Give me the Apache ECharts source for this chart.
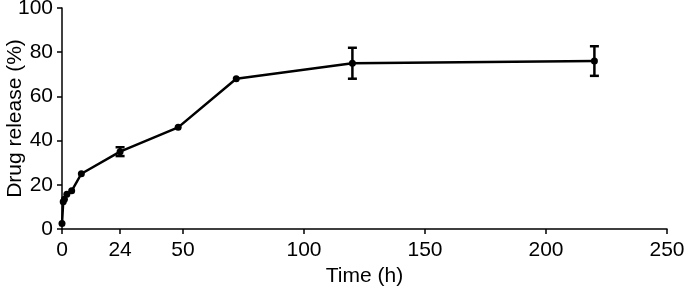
<!DOCTYPE html>
<html>
<head>
<meta charset="utf-8">
<script src="https://cdn.jsdelivr.net/npm/echarts@6/dist/echarts.min.js"></script>
<style>
  html, body { margin: 0; padding: 0; background: #fff; }
  #main { width: 685px; height: 290px; }
</style>
</head>
<body>
<div id="main"></div>
<script>
// release data
var times = [0, 0.5, 1, 2, 4, 8, 24, 48, 72, 120, 220];
var release = [2.5, 12.3, 13.5, 15.7, 17.3, 25, 35, 46, 68, 75, 76];
var errs = [0, 0, 0, 0, 0, 0, 2, 0, 0, 7, 6.7];
var xTicks = [0, 24, 50, 100, 150, 200, 250];

var myChart = echarts.init(document.getElementById("main"));

var font = "Liberation Sans, Arial, sans-serif";
var pts = times.map(function (t, i) { return [t, release[i]]; });
var errData = times.map(function (t, i) { return [t, release[i] - errs[i], release[i] + errs[i]]; })
  .filter(function (d) { return d[2] - d[1] > 0; });

var option = {
  animation: false,
  grid: { left: 62, right: 18, top: 8, bottom: 61, outerBoundsMode: "none" },
  xAxis: {
    type: "value",
    min: 0,
    max: 250,
    name: "Time (h)",
    nameLocation: "middle",
    nameGap: 37,
    nameMoveOverlap: false,
    nameTextStyle: { color: "#000", fontSize: 21, fontFamily: font },
    splitLine: { show: false },
    axisLine: { lineStyle: { color: "#000", width: 1.5 } },
    axisTick: { length: 5, lineStyle: { color: "#000", width: 1.5 }, customValues: xTicks },
    axisLabel: { color: "#000", fontSize: 21, fontFamily: font, margin: 11, customValues: xTicks },
  },
  yAxis: {
    type: "value",
    min: 0,
    max: 100,
    interval: 20,
    name: "Drug release (%)",
    nameLocation: "middle",
    nameGap: 36,
    nameMoveOverlap: false,
    nameTextStyle: { color: "#000", fontSize: 21, fontFamily: font },
    splitLine: { show: false },
    axisLine: { show: true, lineStyle: { color: "#000", width: 1.5 } },
    axisTick: { show: true, length: 5, lineStyle: { color: "#000", width: 1.5 } },
    axisLabel: { color: "#000", fontSize: 21, fontFamily: font, margin: 9 },
  },
  series: [
    {
      type: "line",
      data: pts,
      symbol: "circle",
      symbolSize: 7,
      lineStyle: { color: "#000", width: 2.5 },
      itemStyle: { color: "#000" },
      z: 3,
    },
    {
      type: "custom",
      data: errData,
      z: 4,
      renderItem: function (params, api) {
        var lo = api.coord([api.value(0), api.value(1)]);
        var hi = api.coord([api.value(0), api.value(2)]);
        var w = 4.5;
        var style = { stroke: "#000", lineWidth: 2.5 };
        return {
          type: "group",
          children: [
            { type: "line", shape: { x1: lo[0], y1: lo[1], x2: hi[0], y2: hi[1] }, style: style },
            { type: "line", shape: { x1: lo[0] - w, y1: lo[1], x2: lo[0] + w, y2: lo[1] }, style: style },
            { type: "line", shape: { x1: hi[0] - w, y1: hi[1], x2: hi[0] + w, y2: hi[1] }, style: style },
          ],
        };
      },
    },
  ],
};
myChart.setOption(option);
</script>
</body>
</html>
